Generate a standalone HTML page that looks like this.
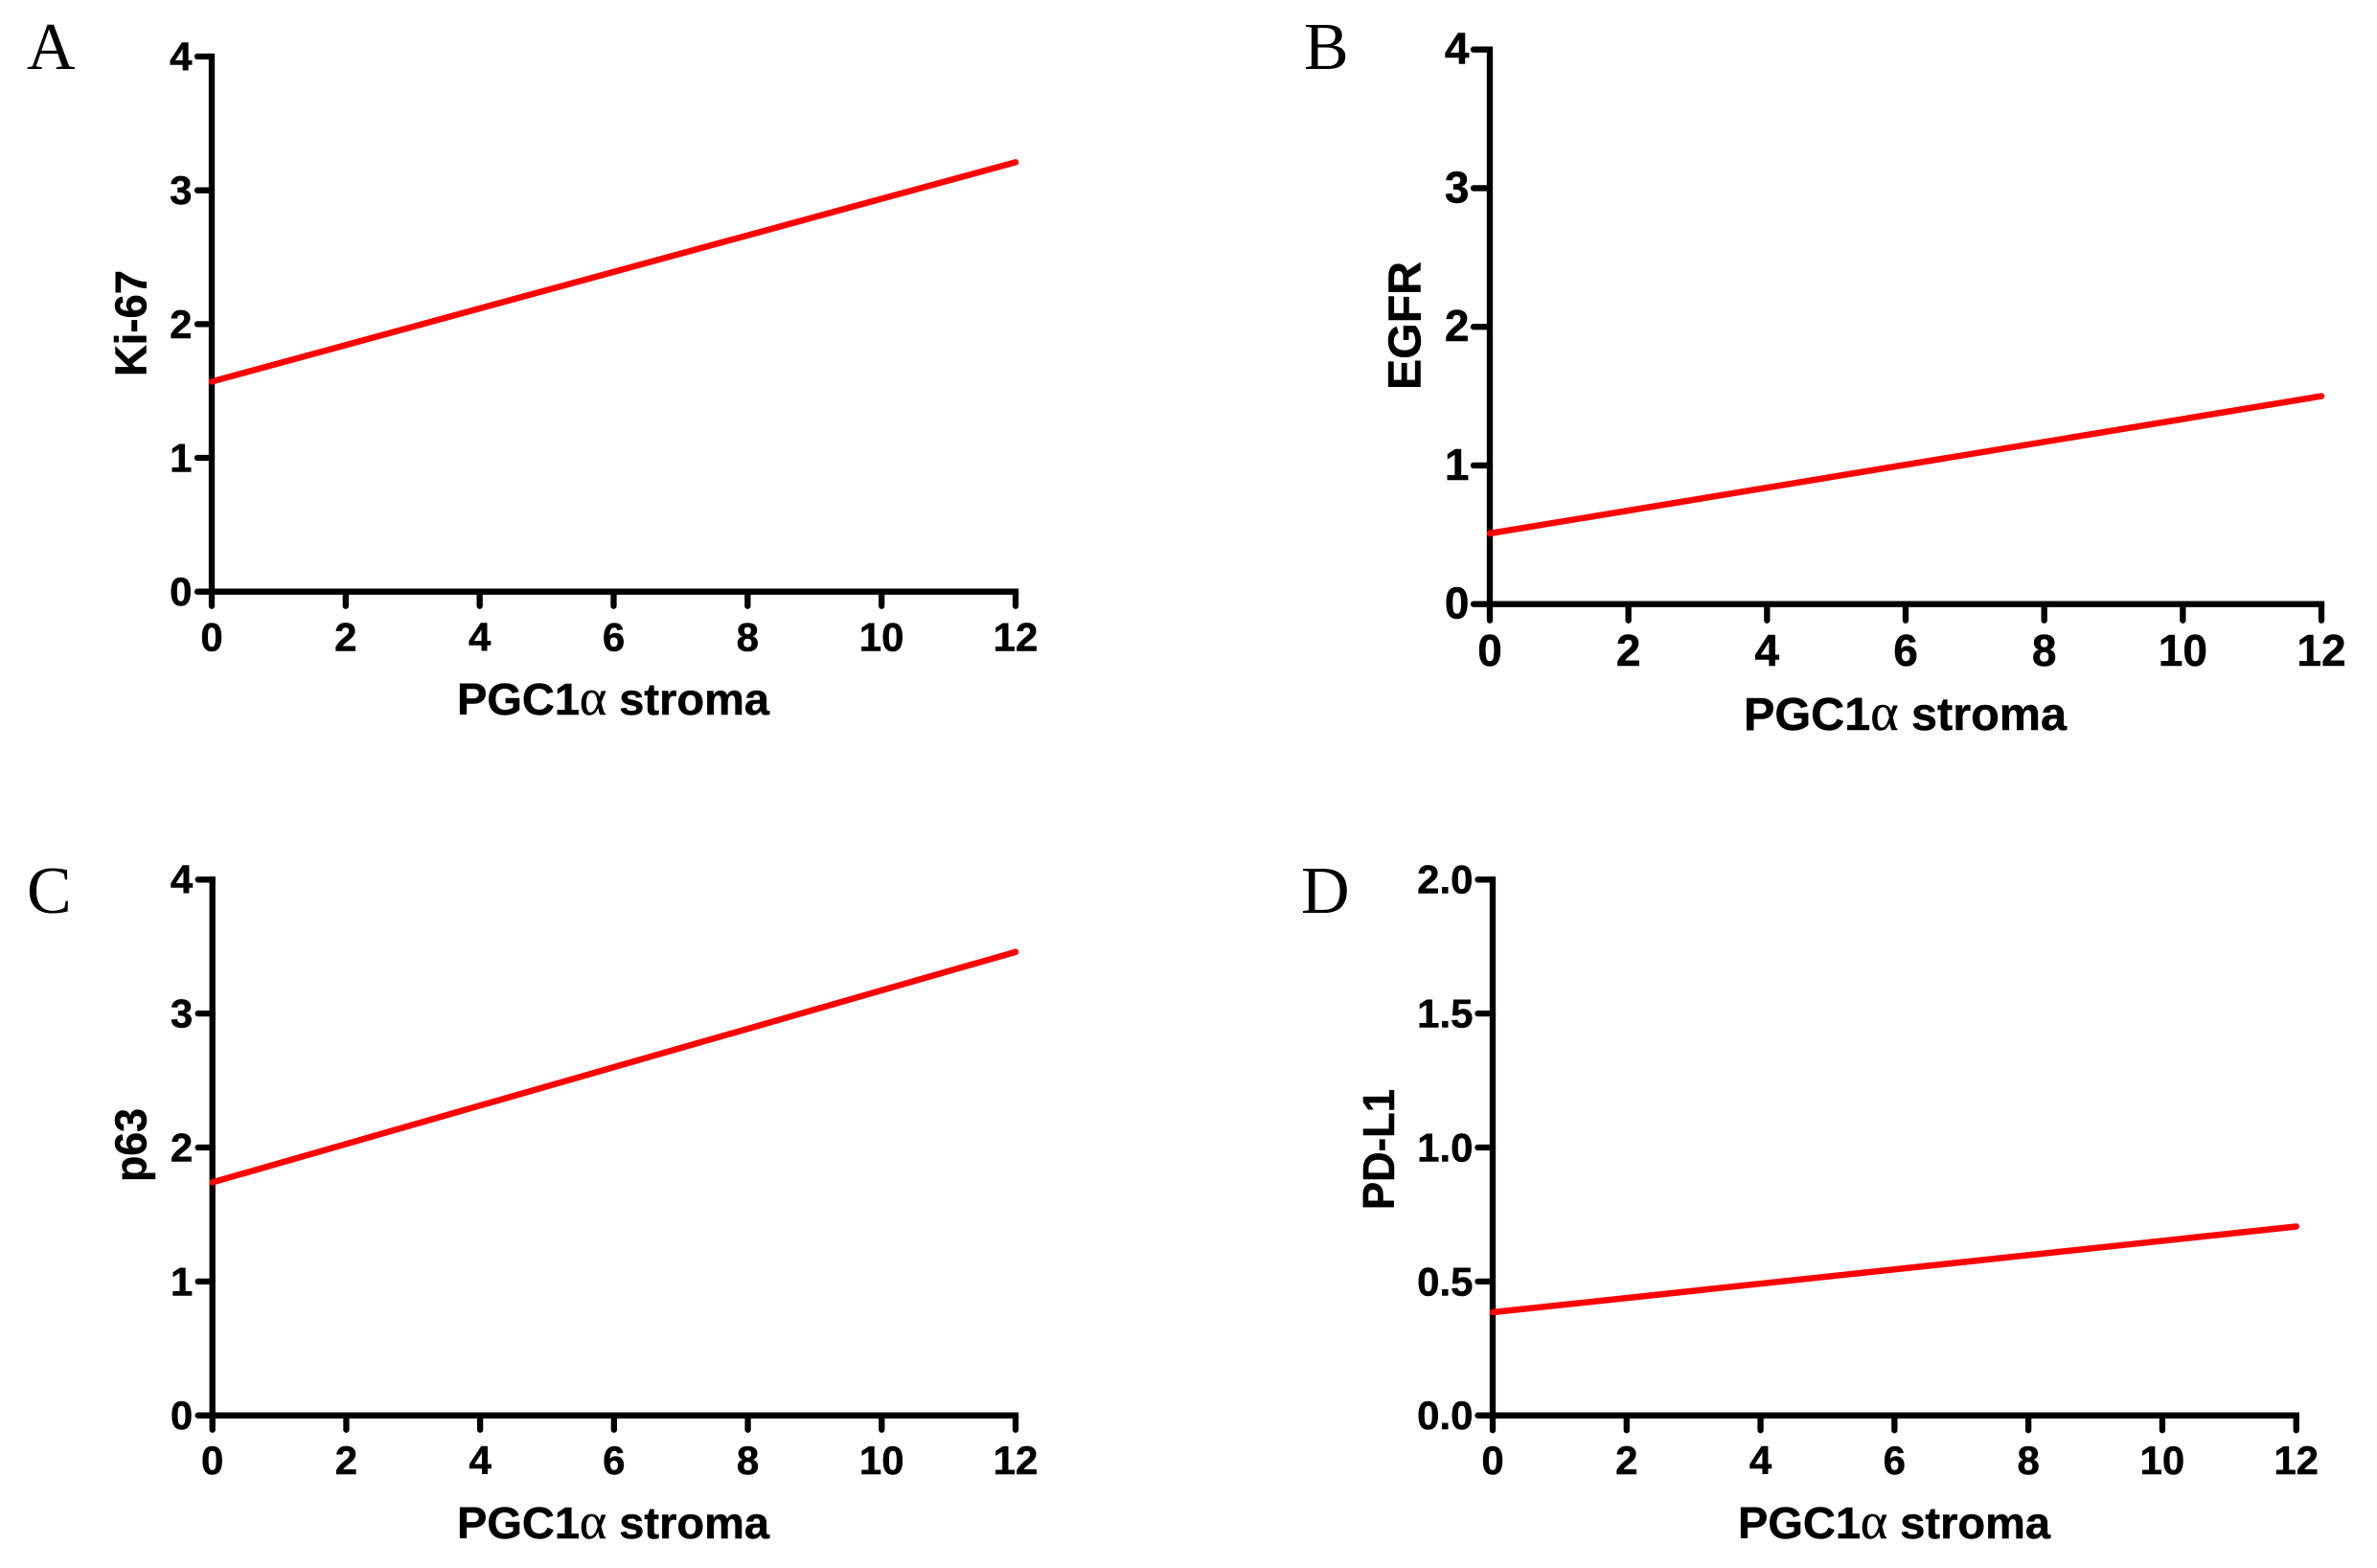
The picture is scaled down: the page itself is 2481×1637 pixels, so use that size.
<!DOCTYPE html>
<html lang="en">
<head>
<meta charset="utf-8">
<title>PGC1α stroma correlations</title>
<style>
  html, body { margin: 0; padding: 0; background: #fff; }
  body { width: 2481px; height: 1637px; overflow: hidden; }
  svg { display: block; }
  text { font-family: "Liberation Sans", Arial, sans-serif; font-weight: 700; fill: #000; stroke: #000; stroke-width: 0.5px; }
  .letter { font-family: "Liberation Serif", serif; font-weight: 400; font-size: 70px; stroke: none; }
  .alpha { font-family: "Liberation Serif", serif; font-weight: 400; font-size: 1.15em; }
</style>
</head>
<body>
<svg id="figure" xmlns="http://www.w3.org/2000/svg" width="2481" height="1637" viewBox="0 0 2481 1637">
  <rect x="0" y="0" width="2481" height="1637" fill="#ffffff"/>

  <text class="letter" x="28" y="72">A</text>
  <text class="letter" x="1361" y="72">B</text>
  <text class="letter" x="28" y="953">C</text>
  <text class="letter" x="1358" y="953">D</text>

  <text x="477" y="746" font-size="46" textLength="326" lengthAdjust="spacingAndGlyphs">PGC1<tspan class="alpha">α</tspan> stroma</text>
  <text x="1820" y="762" font-size="48" textLength="337" lengthAdjust="spacingAndGlyphs">PGC1<tspan class="alpha">α</tspan> stroma</text>
  <text x="477" y="1606" font-size="46" textLength="326" lengthAdjust="spacingAndGlyphs">PGC1<tspan class="alpha">α</tspan> stroma</text>
  <text x="1814" y="1606" font-size="46" textLength="326" lengthAdjust="spacingAndGlyphs">PGC1<tspan class="alpha">α</tspan> stroma</text>

  <text transform="translate(152.7 393) rotate(-90)" font-size="46" textLength="111" lengthAdjust="spacingAndGlyphs">Ki-67</text>
  <text transform="translate(1482.3 407) rotate(-90)" font-size="48" textLength="134" lengthAdjust="spacingAndGlyphs">EGFR</text>
  <text transform="translate(152.3 1234) rotate(-90)" font-size="46" textLength="77" lengthAdjust="spacingAndGlyphs">p63</text>
  <text transform="translate(1455 1263) rotate(-90)" font-size="46" textLength="126" lengthAdjust="spacingAndGlyphs">PD-L1</text>
</svg>

<script>
// Chart data
const xTicks = [0, 2, 4, 6, 8, 10, 12];
const yTicksABC = [0, 1, 2, 3, 4];
const yTicksD = [0, 0.5, 1, 1.5, 2];
const yTickLabelsABC = ['0', '1', '2', '3', '4'];
const yTickLabelsD = ['0.0', '0.5', '1.0', '1.5', '2.0'];
const lineX = [0, 12];
const ki67Values = [1.57, 3.21];
const egfrValues = [0.51, 1.50];
const p63Values = [1.74, 3.46];
const pdl1Values = [0.385, 0.705];

// Panel layout
const panels = [
  { id: 'a', left: 221, right: 1060, top: 59, bottom: 617.7, yTicks: yTicksABC, yLabels: yTickLabelsABC, values: ki67Values, size: 42, xBase: 679.3, yOffset: 14.5, tick: 15, gap: 20.5 },
  { id: 'b', left: 1555, right: 2423, top: 51.7, bottom: 630.7, yTicks: yTicksABC, yLabels: yTickLabelsABC, values: egfrValues, size: 46, xBase: 695, yOffset: 15, tick: 17, gap: 21.5 },
  { id: 'c', left: 221.7, right: 1060, top: 918.3, bottom: 1477.7, yTicks: yTicksABC, yLabels: yTickLabelsABC, values: p63Values, size: 42, xBase: 1539, yOffset: 14.4, tick: 15, gap: 20.5 },
  { id: 'd', left: 1558, right: 2396.7, top: 918.3, bottom: 1477.7, yTicks: yTicksD, yLabels: yTickLabelsD, values: pdl1Values, size: 42, xBase: 1539, yOffset: 14.4, tick: 15.5, gap: 20.5 }
];

const SVG_NS = 'http://www.w3.org/2000/svg';
const figure = document.getElementById('figure');
const AXIS_WIDTH = 6.3;

function drawLine(parent, x1, y1, x2, y2, color, width, cap) {
  const el = document.createElementNS(SVG_NS, 'line');
  el.setAttribute('x1', x1);
  el.setAttribute('y1', y1);
  el.setAttribute('x2', x2);
  el.setAttribute('y2', y2);
  el.setAttribute('stroke', color);
  el.setAttribute('stroke-width', width);
  el.setAttribute('stroke-linecap', cap);
  parent.appendChild(el);
  return el;
}

function drawText(parent, x, y, content, size, anchor) {
  const el = document.createElementNS(SVG_NS, 'text');
  el.setAttribute('x', x);
  el.setAttribute('y', y);
  el.setAttribute('font-size', size);
  el.setAttribute('text-anchor', anchor);
  el.textContent = content;
  parent.appendChild(el);
  return el;
}

panels.forEach(function (p) {
  const xMin = xTicks[0];
  const xMax = xTicks[xTicks.length - 1];
  const yMin = p.yTicks[0];
  const yMax = p.yTicks[p.yTicks.length - 1];
  const xScale = function (v) { return p.left + (v - xMin) / (xMax - xMin) * (p.right - p.left); };
  const yScale = function (v) { return p.bottom - (v - yMin) / (yMax - yMin) * (p.bottom - p.top); };

  const group = document.createElementNS(SVG_NS, 'g');
  
  
  figure.appendChild(group);

  const yAxis = drawLine(group, xScale(xMin), yScale(yMax), xScale(xMin), yScale(yMin), '#000', AXIS_WIDTH, 'square');
  
  

  const xAxis = drawLine(group, xScale(xMin), yScale(yMin), xScale(xMax), yScale(yMin), '#000', AXIS_WIDTH, 'square');
  
  

  p.yTicks.forEach(function (v, i) {
    const tick = drawLine(group, xScale(xMin), yScale(v), xScale(xMin) - p.tick, yScale(v), '#000', AXIS_WIDTH, 'round');
    
    
    const label = drawText(group, xScale(xMin) - p.gap, yScale(v) + p.yOffset, p.yLabels[i], p.size, 'end');
    
    
  });

  xTicks.forEach(function (v) {
    const tick = drawLine(group, xScale(v), yScale(yMin), xScale(v), yScale(yMin) + p.tick, '#000', AXIS_WIDTH, 'round');
    
    
    const label = drawText(group, xScale(v), p.xBase, String(v), p.size, 'middle');
    
    
  });

  const trend = drawLine(group, xScale(lineX[0]), yScale(p.values[0]), xScale(lineX[1]), yScale(p.values[1]), '#ff0000', 6.5, 'round');
  
  
});
</script>
</body>
</html>
